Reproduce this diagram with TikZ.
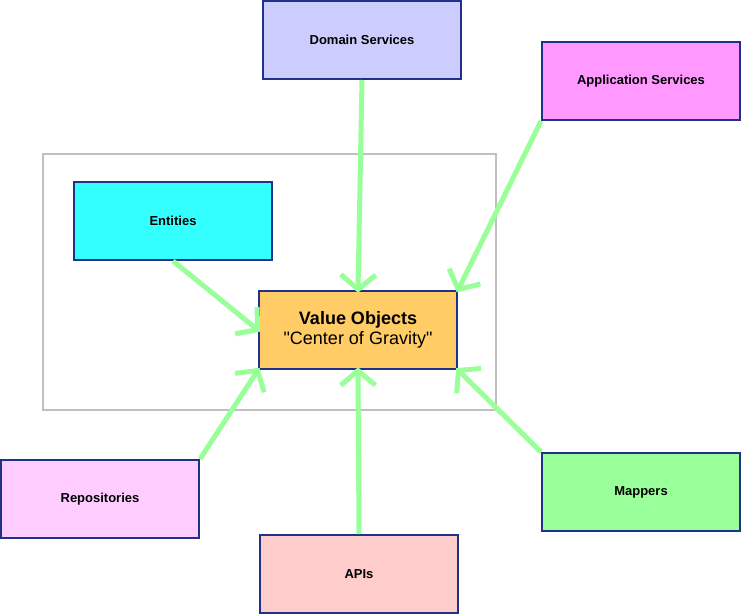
\documentclass[tikz,border=0pt]{standalone}
\usepackage{fontspec}
\setmainfont{Liberation Sans}[Ligatures=TeXOff]
\usetikzlibrary{arrows.meta}
\definecolor{boxline}{RGB}{31,50,135}
\definecolor{arrowgreen}{RGB}{153,255,153}
\definecolor{framegray}{RGB}{192,192,192}

\begin{document}
\begin{tikzpicture}[x=0.75pt, y=-0.75pt,
	box/.style={draw=boxline, line width=1.5pt, minimum width=148.5pt, minimum height=58.5pt, inner sep=0pt, font=\fontsize{9.75}{12}\selectfont\bfseries},
	uses/.style={draw=arrowgreen, line width=3.75pt, shorten >=-2pt, -{Straight Barb[length=11pt, width=26pt]}}]
	\useasboundingbox (0,0) rectangle (741,614);
	\draw[framegray, line width=1.5pt] (43,154) rectangle (496,410);
	\node[box, fill={rgb,255:red,204;green,204;blue,255}] (dom) at (362,40)  {Domain Services};
	\node[box, fill={rgb,255:red,255;green,153;blue,255}] (app) at (641,81)  {Application Services};
	\node[box, fill={rgb,255:red,51;green,255;blue,255}]  (ent) at (173,221) {Entities};
	\node[box, fill={rgb,255:red,255;green,204;blue,102}, font=\fontsize{13.5}{15.5}\selectfont, align=center] (vo) at (358,330)
		{\textbf{Value Objects}\\"Center of Gravity"};
	\node[box, fill={rgb,255:red,255;green,204;blue,255}] (rep) at (100,499) {Repositories};
	\node[box, fill={rgb,255:red,255;green,204;blue,204}] (api) at (359,574) {APIs};
	\node[box, fill={rgb,255:red,153;green,255;blue,153}] (map) at (641,492) {Mappers};
	\draw[uses] (dom.south) -- (vo.north);
	\draw[uses] (app.south west) -- (vo.north east);
	\draw[uses] (ent.south) -- (vo.west);
	\draw[uses] (rep.north east) -- (vo.south west);
	\draw[uses] (api.north) -- (vo.south);
	\draw[uses] (map.north west) -- (vo.south east);
\end{tikzpicture}
\end{document}
